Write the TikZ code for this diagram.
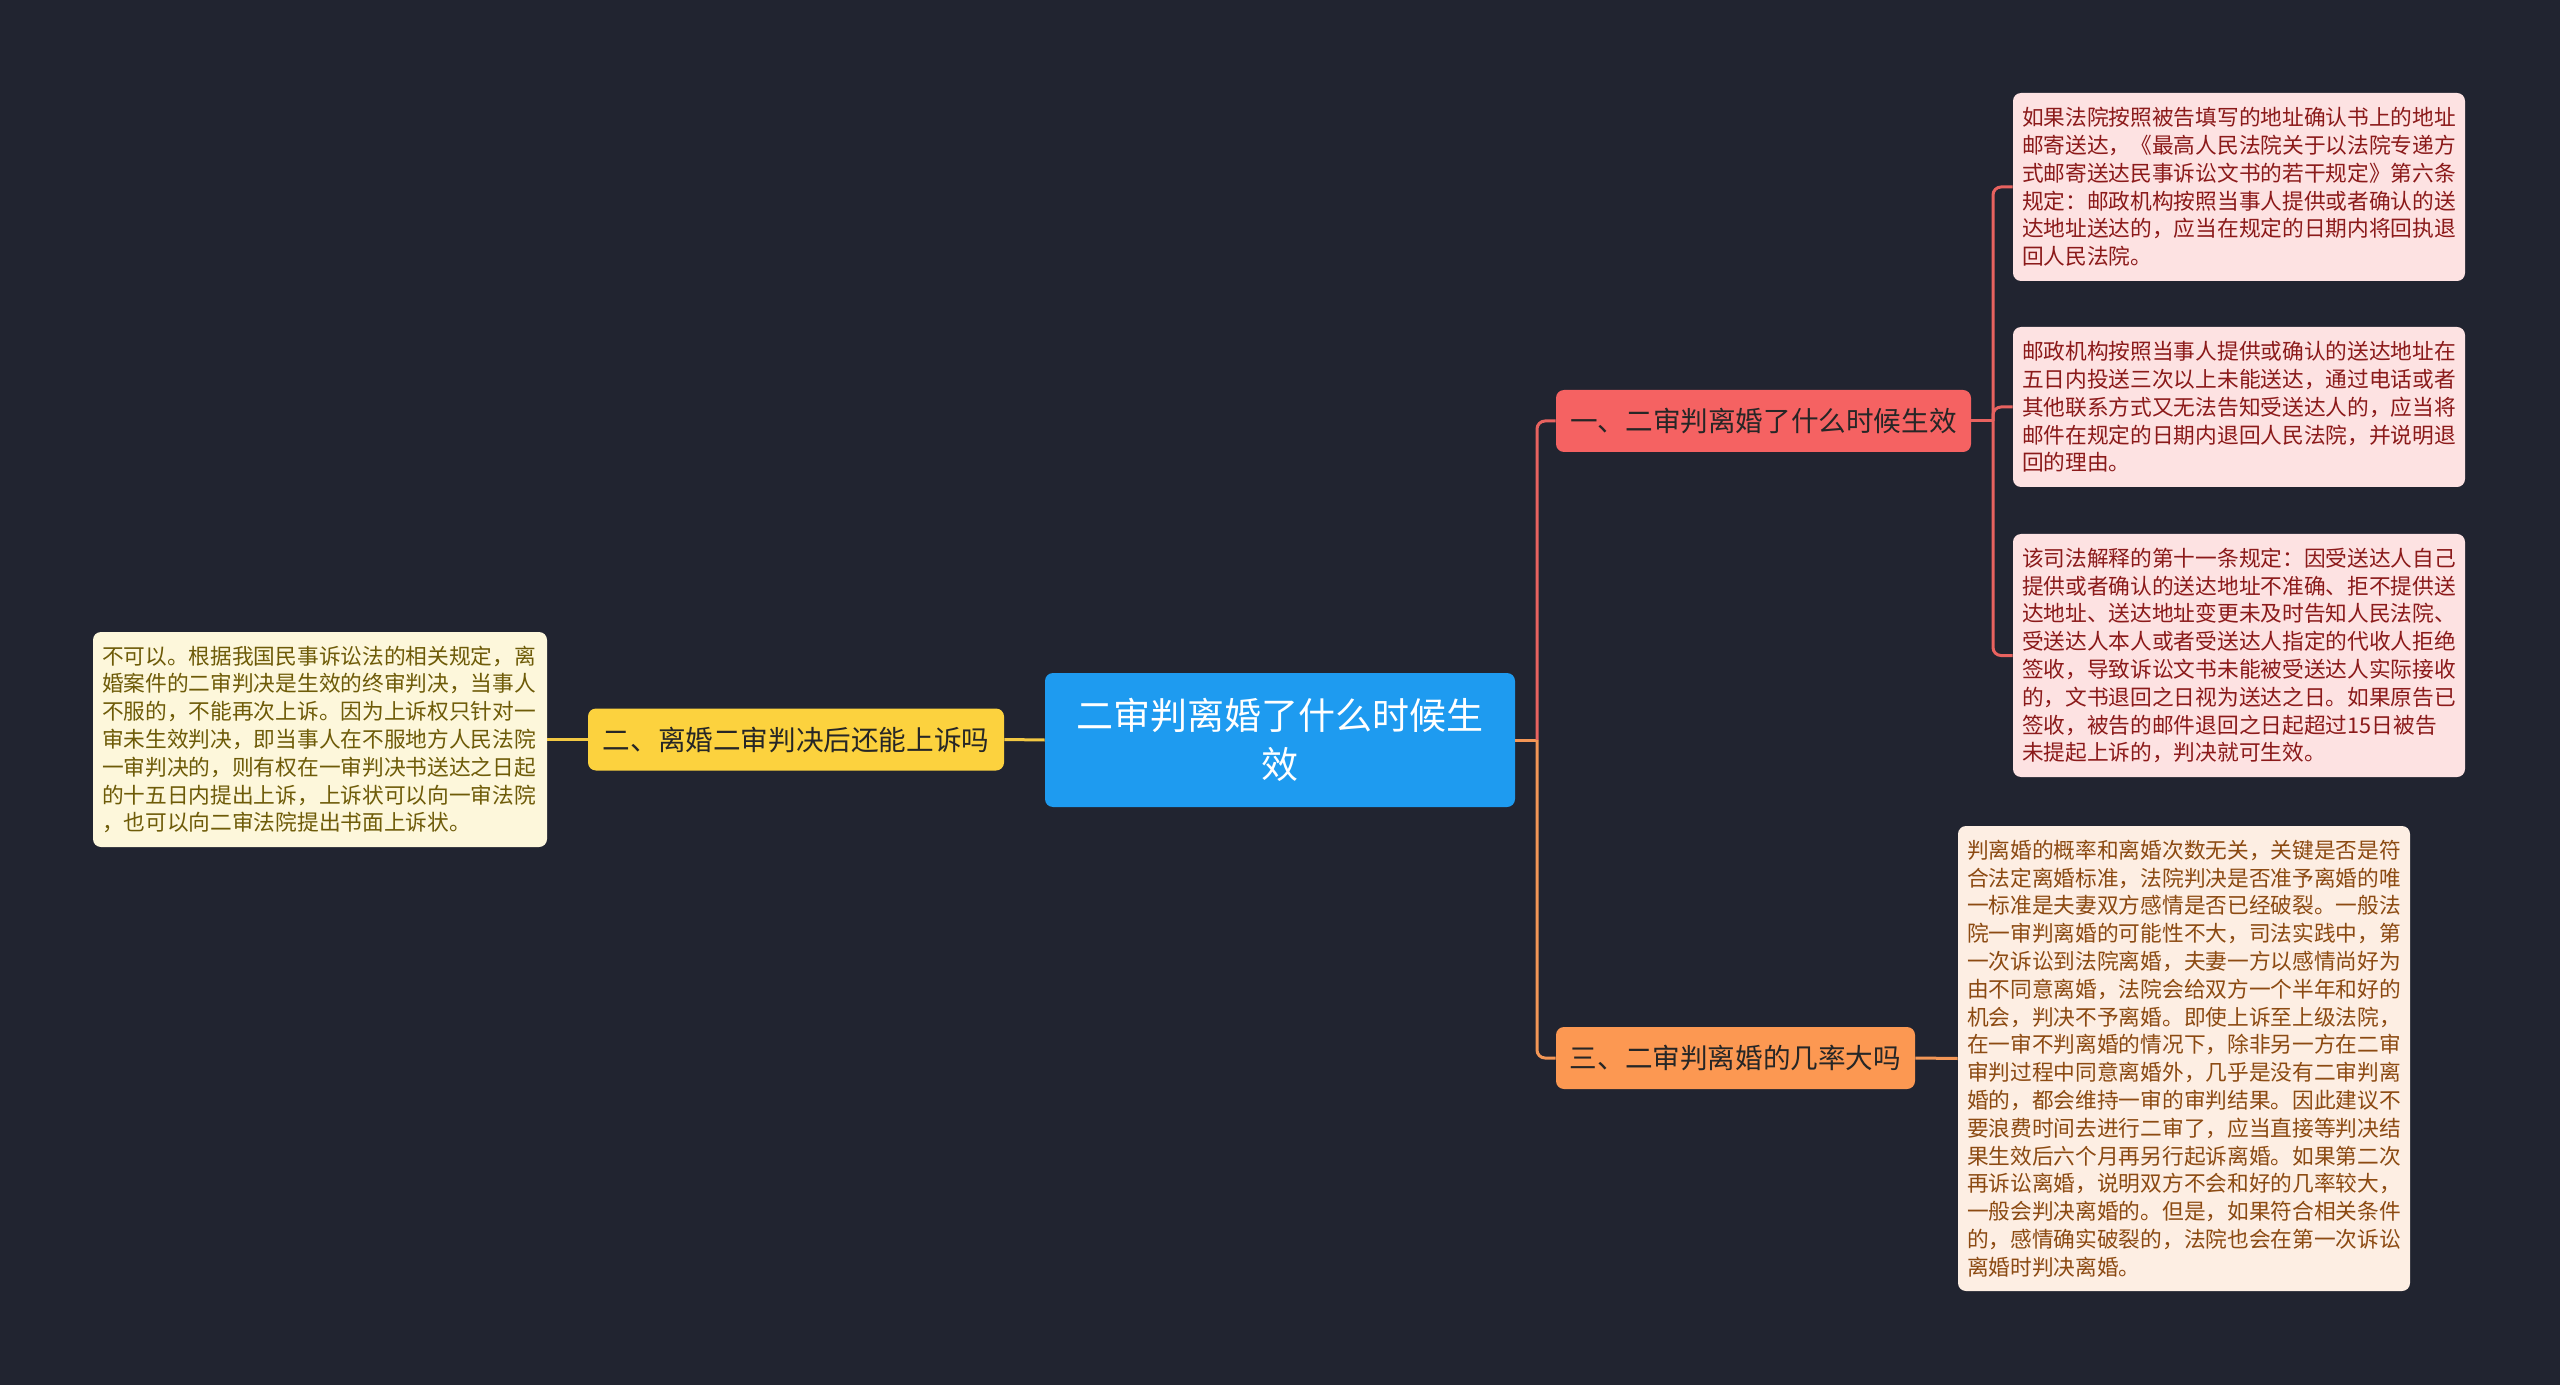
\documentclass[tikz,border=0pt]{standalone}
\usepackage{fontspec}
\newfontfamily\cjk{Noto Sans CJK SC}
\usetikzlibrary{calc}

\definecolor{bgcol}{HTML}{212430}
\definecolor{rootcol}{HTML}{1E9BF0}
\definecolor{redcol}{HTML}{F56262}
\definecolor{yellowcol}{HTML}{FCD23E}
\definecolor{orangecol}{HTML}{FC9852}
\definecolor{redline}{HTML}{E8625F}
\definecolor{yellowline}{HTML}{F2C843}
\definecolor{orangeline}{HTML}{F39656}
\definecolor{redleaf}{HTML}{FDE2E2}
\definecolor{redtext}{HTML}{8B1A1A}
\definecolor{orangeleaf}{HTML}{FDEEE3}
\definecolor{orangetext}{HTML}{8C4A12}
\definecolor{yellowleaf}{HTML}{FDF7DB}
\definecolor{yellowtext}{HTML}{6E5B08}

\tikzset{
  root/.style={fill=rootcol, text=white, rounded corners=4pt, align=center,
    minimum width=235pt, minimum height=67pt, inner sep=0pt,
    font=\cjk\fontsize{18.5pt}{24.5pt}\selectfont},
  topic/.style={rounded corners=4pt, text=black!85, inner sep=0pt,
    minimum height=31pt, font=\cjk\fontsize{13.8pt}{16pt}\selectfont},
  leaf/.style={rounded corners=4pt, align=left, inner xsep=4.5pt, inner ysep=0pt,
    text width=217pt, minimum width=226pt,
    font=\cjk\fontsize{10.85pt}{13.9pt}\selectfont},
  link/.style={line width=1.5pt},
  elbow/.style={line width=1.5pt, rounded corners=4pt}
}

\begin{document}
\begin{tikzpicture}[x=0.5pt, y=-0.5pt]
        \fill[bgcol] (0,0) rectangle (2560,1385);
        \useasboundingbox (0,0) rectangle (2560,1385);

        % centre and main topics
        \node[root] (C) at (1280,740) {二审判离婚了什么时候生\\效};
        \node[topic, fill=redcol, minimum width=207.5pt] (T1) at (1763.5,421) {一、二审判离婚了什么时候生效};
        \node[topic, fill=yellowcol, minimum width=208pt] (T2) at (796,739.5) {二、离婚二审判决后还能上诉吗};
        \node[topic, fill=orangecol, minimum width=179.5pt] (T3) at (1735.5,1058) {三、二审判离婚的几率大吗};

        % details
        \node[leaf, fill=redleaf, text=redtext, minimum height=94pt] (L1a) at (2239,187) {如果法院按照被告填写的地址确认书上的地址\\邮寄送达，《最高人民法院关于以法院专递方\\式邮寄送达民事诉讼文书的若干规定》第六条\\规定：邮政机构按照当事人提供或者确认的送\\达地址送达的，应当在规定的日期内将回执退\\回人民法院。};
        \node[leaf, fill=redleaf, text=redtext, minimum height=80pt] (L1b) at (2239,407) {邮政机构按照当事人提供或确认的送达地址在\\五日内投送三次以上未能送达，通过电话或者\\其他联系方式又无法告知受送达人的，应当将\\邮件在规定的日期内退回人民法院，并说明退\\回的理由。};
        \node[leaf, fill=redleaf, text=redtext, minimum height=121.5pt] (L1c) at (2239,655.5) {该司法解释的第十一条规定：因受送达人自己\\提供或者确认的送达地址不准确、拒不提供送\\达地址、送达地址变更未及时告知人民法院、\\受送达人本人或者受送达人指定的代收人拒绝\\签收，导致诉讼文书未能被受送达人实际接收\\的，文书退回之日视为送达之日。如果原告已\\签收，被告的邮件退回之日起超过15日被告\\未提起上诉的，判决就可生效。};
        \node[leaf, fill=orangeleaf, text=orangetext, minimum height=232.5pt] (L3) at (2184,1058.5) {判离婚的概率和离婚次数无关，关键是否是符\\合法定离婚标准，法院判决是否准予离婚的唯\\一标准是夫妻双方感情是否已经破裂。一般法\\院一审判离婚的可能性不大，司法实践中，第\\一次诉讼到法院离婚，夫妻一方以感情尚好为\\由不同意离婚，法院会给双方一个半年和好的\\机会，判决不予离婚。即使上诉至上级法院，\\在一审不判离婚的情况下，除非另一方在二审\\审判过程中同意离婚外，几乎是没有二审判离\\婚的，都会维持一审的审判结果。因此建议不\\要浪费时间去进行二审了，应当直接等判决结\\果生效后六个月再另行起诉离婚。如果第二次\\再诉讼离婚，说明双方不会和好的几率较大，\\一般会判决离婚的。但是，如果符合相关条件\\的，感情确实破裂的，法院也会在第一次诉讼\\离婚时判决离婚。};
        \node[leaf, fill=yellowleaf, text=yellowtext, text width=218pt, minimum width=227pt, minimum height=107.5pt] (L2) at (320,739.5) {不可以。根据我国民事诉讼法的相关规定，离\\婚案件的二审判决是生效的终审判决，当事人\\不服的，不能再次上诉。因为上诉权只针对一\\审未生效判决，即当事人在不服地方人民法院\\一审判决的，则有权在一审判决书送达之日起\\的十五日内提出上诉，上诉状可以向一审法院\\，也可以向二审法院提出书面上诉状。};

        % junctions
        \coordinate (J) at (1537,740);
        \coordinate (J1) at (1993,421);

        \draw[link, orangeline] (C.east) -- (J);
        \draw[elbow, redline] (J) |- (T1.west);
        \draw[elbow, orangeline] (J) |- (T3.west);
        \draw[link, yellowline] (C.west) -- (T2.east);
        \draw[link, yellowline] (T2.west) -- (L2.east);
        \draw[link, redline] (T1.east) -- (J1);
        \draw[elbow, redline] (J1) |- (L1a.west);
        \draw[elbow, redline] (J1) |- (L1b.west);
        \draw[elbow, redline] (J1) |- (L1c.west);
        \draw[link, orangeline] (T3.east) -- (L3.west);
\end{tikzpicture}
\end{document}
